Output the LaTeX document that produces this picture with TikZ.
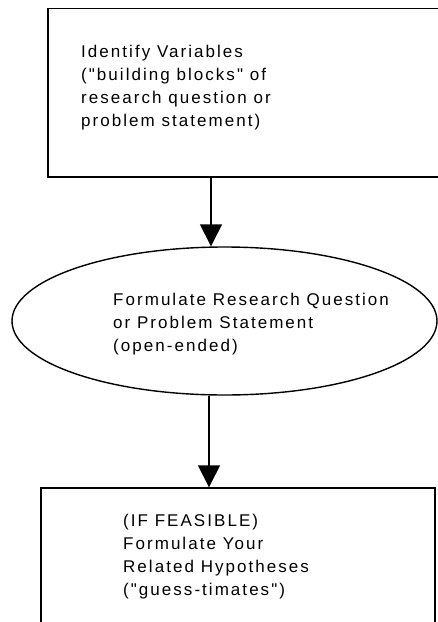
\documentclass[tikz,border=0pt]{standalone}
\usepackage{fontspec}
\setmainfont[Ligatures=TeXOff, LetterSpace=12]{Liberation Sans}
\usetikzlibrary{arrows.meta,shapes.geometric,shapes.misc}

\tikzset{
  outline/.style={draw=black, line width=1.4pt, fill=white},
  stepbox/.style={outline, rectangle, inner sep=0pt},
  roundbox/.style={outline, chamfered rectangle, chamfered rectangle xsep=4pt,
    chamfered rectangle ysep=4pt, inner sep=0pt},
  stepoval/.style={outline, ellipse, inner sep=0pt},
  caption/.style={anchor=north west, align=left, inner sep=0pt,
    font=\fontsize{17}{23}\selectfont},
  flow/.style={draw=black, line width=1.4pt,
    -{Triangle[width=22pt,length=22pt]}, shorten >=0pt},
}

\begin{document}
\begin{tikzpicture}[x=1pt,y=-1pt]
  \useasboundingbox (0,0) rectangle (438,622);
  \clip (0,0) rectangle (438,622);

  % first step: box running past the right margin
  \node[stepbox, minimum width=400pt, minimum height=168.5pt] (vars) at (248,92.75) {};
  \node[caption] (varstext) at (81,45)
    {Identify Variables\\("building blocks" of\\research question or\\problem statement)};

  % second step: the oval
  \node[stepoval, minimum width=425pt, minimum height=148pt] (form) at (224.5,321) {};
  \node[caption] (formtext) at (113,293)
    {Formulate Research Question\\or Problem Statement\\(open-ended)};

  % third step: box running past the bottom margin
  \node[roundbox, minimum width=394pt, minimum height=160pt] (hyp) at (238,568) {};
  \node[caption] (hyptext) at (123,514)
    {(IF FEASIBLE)\\Formulate Your\\Related Hypotheses\\("guess-timates")};

  % connectors
  \coordinate (a1) at (211,0);
  \coordinate (a2) at (209,0);
  \draw[flow] (vars.south -| a1) -- (form.north -| a1);
  \draw[flow] (form.south -| a2) -- (hyp.north -| a2);
\end{tikzpicture}
\end{document}
